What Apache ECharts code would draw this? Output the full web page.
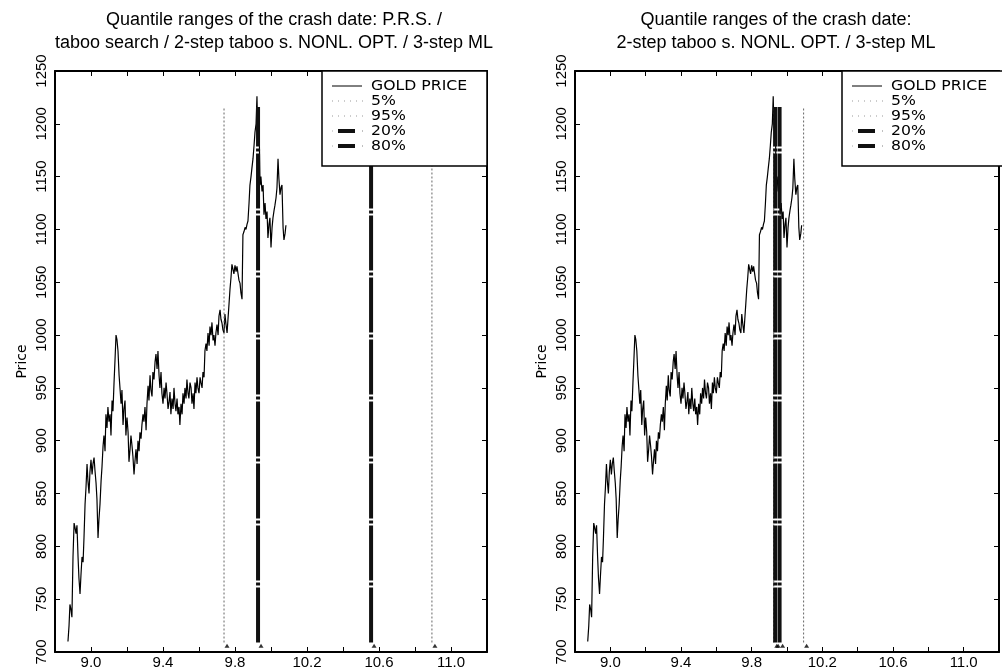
<!DOCTYPE html>
<html><head><meta charset="utf-8">
<script src="https://cdn.jsdelivr.net/npm/echarts@6/dist/echarts.min.js"></script>
<style>html,body{margin:0;padding:0;background:#fff}#c{width:1002px;height:670px}</style>
</head><body><div id="c"></div>
<script>
// ---------- data ----------
const goldDate = [
 8.872,8.878,8.883,8.889,8.894,8.900,8.906,8.911,8.917,8.922,8.928,8.933,8.939,8.944,8.950,8.956,8.961,8.967,8.972,8.978,8.983,8.989,8.994,
 9.000,9.006,9.011,9.017,9.022,9.028,9.033,9.039,9.044,9.050,9.056,9.061,9.067,9.072,9.078,9.083,9.089,9.094,9.100,9.106,9.111,9.117,9.122,9.128,9.133,9.139,9.144,9.150,9.156,9.161,9.167,9.172,9.178,9.183,9.189,9.194,
 9.200,9.206,9.211,9.217,9.222,9.228,9.233,9.239,9.244,9.250,9.256,9.261,9.267,9.272,9.278,9.283,9.289,9.294,9.300,9.306,9.311,9.317,9.322,9.328,9.333,9.339,9.344,9.350,9.356,9.361,9.367,9.372,9.378,9.383,9.389,9.394,
 9.400,9.406,9.411,9.417,9.422,9.428,9.433,9.439,9.444,9.450,9.456,9.461,9.467,9.472,9.478,9.483,9.489,9.494,9.500,9.506,9.511,9.517,9.522,9.528,9.533,9.539,9.544,9.550,9.556,9.561,9.567,9.572,9.578,9.583,9.589,9.594,
 9.600,9.606,9.611,9.617,9.622,9.628,9.633,9.639,9.644,9.650,9.656,9.661,9.667,9.672,9.678,9.683,9.689,9.694,9.700,9.706,9.711,9.717,9.722,9.728,9.733,9.739,9.744,9.750,9.756,9.761,9.767,9.772,9.778,9.783,9.789,9.794,
 9.800,9.806,9.811,9.817,9.822,9.828,9.833,9.839,9.844,9.850,9.856,9.861,9.867,9.872,9.878,9.883,9.889,9.894,9.900,9.906,9.911,9.917,9.922,9.928,9.933,9.939,9.944,9.950,9.956,9.961,9.967,9.972,9.978,9.983,9.989,9.994,
 10.000,10.006,10.011,10.017,10.022,10.028,10.033,10.039,10.044,10.050,10.056,10.061,10.067,10.072,10.078,10.083
];
const goldPrice = [
 710,725,745,740,733,790,822,818,812,820,790,770,755,772,790,785,808,840,855,878,862,850,870,
 882,868,878,884,872,860,845,808,825,840,862,875,895,905,890,925,912,932,918,925,905,938,928,955,975,1000,996,985,962,950,935,948,915,930,938,905,
 922,908,880,892,905,895,885,868,880,892,878,900,890,908,902,915,925,918,932,910,935,952,938,962,948,942,965,958,975,982,968,985,962,950,965,945,
 935,950,940,955,945,930,936,946,925,940,930,950,935,928,940,925,932,915,935,925,945,935,950,940,958,945,940,955,950,935,945,930,955,945,960,950,
 945,960,955,950,965,960,985,992,985,1002,990,1008,1000,1012,995,1000,990,1002,1010,1000,1018,1024,1015,1011,1005,1002,1020,1010,1002,1015,1030,1043,1055,1067,1062,1058,
 1066,1060,1065,1058,1052,1049,1040,1034,1095,1098,1102,1100,1105,1108,1125,1142,1150,1158,1167,1180,1192,1200,1226,1179,1210,1142,1150,1136,1142,1114,1125,1110,1117,1092,1105,1111,
 1083,1102,1111,1118,1123,1130,1139,1167,1148,1133,1140,1142,1102,1090,1096,1104
];
// quantile crash dates (x) per panel
const leftQ5  = [9.739],  leftQ95  = [10.894], leftQ20  = [9.928], leftQ80  = [10.556];
const rightQ5 = [9.925],  rightQ95 = [10.094], rightQ20 = [9.933], rightQ80 = [9.958];
const quantileSpan = [709, 1216];   // price range covered by the vertical quantile lines
const markerLevel = [706];          // price level of the small end markers
const legendLabels = ['GOLD PRICE', '5%', '95%', '20%', '80%'];
const titleLeft  = ['Quantile ranges of the crash date: P.R.S. /', 'taboo search / 2-step taboo s. NONL. OPT. / 3-step ML'];
const titleRight = ['Quantile ranges of the crash date:', '2-step taboo s. NONL. OPT. / 3-step ML'];
const yAxisName = 'Price';
const xRange = [8.8, 11.2], xStep = 0.2;
const yRange = [700, 1250], yStep = 50;

// ---------- chart ----------
const chart = echarts.init(document.getElementById('c'), null, {renderer: 'canvas'});
const FONT = 'Liberation Sans';
const PANELS = [{left: 55, title: titleLeft, tx: 274, q: [leftQ5, leftQ95, leftQ20, leftQ80]},
                {left: 575, title: titleRight, tx: 776, q: [rightQ5, rightQ95, rightQ20, rightQ80]}];
const TOP = 71, W = 432, H = 590;

function xFmt(v) {
  const k = Math.round((v - 9.0) / 0.2);
  if (k >= 0 && k % 2 === 0) return v.toFixed(1);
  return '';
}
const axisLine = {show: true, onZero: false, lineStyle: {color: '#000', width: 2}};
const axisTick = {show: true, inside: true, length: 5, lineStyle: {color: '#000', width: 1}};

const grid = [], xAxis = [], yAxis = [], series = [], graphic = [];
const gold = goldDate.map((d, i) => [d, goldPrice[i]]);
const thinStyle = {color: '#666', width: 1, type: [2, 2]};
const thickStyle = {color: '#111', width: 4, type: [55, 2, 3, 2]};

PANELS.forEach((p, gi) => {
  grid.push({left: p.left, top: TOP, width: W, height: H, containLabel: false});
  xAxis.push({gridIndex: gi, type: 'value', position: 'bottom', min: xRange[0], max: xRange[1], interval: xStep,
    axisLine, axisTick, splitLine: {show: false},
    axisLabel: {formatter: xFmt, color: '#000', fontFamily: FONT, fontSize: 15, margin: 3, showMinLabel: true, showMaxLabel: true}});
  xAxis.push({gridIndex: gi, type: 'value', position: 'top', min: xRange[0], max: xRange[1], interval: xStep,
    axisLine, axisTick, splitLine: {show: false}, axisLabel: {show: false}});
  yAxis.push({gridIndex: gi, type: 'value', position: 'left', min: yRange[0], max: yRange[1], interval: yStep,
    axisLine, axisTick, splitLine: {show: false},
    name: yAxisName, nameLocation: 'middle', nameGap: 26, nameRotate: 90,
    nameTextStyle: {color: '#000', fontFamily: 'DejaVu Sans', fontSize: 14},
    axisLabel: {rotate: 90, formatter: v => String(v), color: '#000', fontFamily: FONT, fontSize: 15, margin: 6,
      showMinLabel: true, showMaxLabel: true}});
  yAxis.push({gridIndex: gi, type: 'value', position: 'right', min: yRange[0], max: yRange[1], interval: yStep,
    axisLine, axisTick, splitLine: {show: false}, axisLabel: {show: false}});

  const xi = gi * 2, yi = gi * 2;
  series.push({type: 'line', name: 'GOLD PRICE', xAxisIndex: xi, yAxisIndex: yi, data: gold, showSymbol: false,
    symbol: 'none', lineStyle: {color: '#000', width: 1.2}, z: 3, animation: false});
  const styles = [thinStyle, thinStyle, thickStyle, thickStyle];
  p.q.forEach((arr, qi) => {
    arr.forEach(x => {
      series.push({type: 'line', name: legendLabels[qi + 1], xAxisIndex: xi, yAxisIndex: yi,
        data: quantileSpan.map(v => [x, v]), symbol: 'none', lineStyle: styles[qi], z: 4, animation: false});
      series.push({type: 'scatter', xAxisIndex: xi, yAxisIndex: yi, data: markerLevel.map(v => [x, v]),
        symbol: 'triangle', symbolSize: [5, 4], symbolOffset: [3, 0], itemStyle: {color: '#000'}, z: 4, animation: false});
    });
  });

  // title
  graphic.push({type: 'text', x: p.tx, y: 9, z: 20, style: {text: p.title.join('\n'), align: 'center', verticalAlign: 'top',
    fontFamily: FONT, fontSize: 18, lineHeight: 23, fill: '#000'}});
  // legend box
  const bx = p.left + 267, bw = W - 267;
  graphic.push({type: 'rect', z: 20, shape: {x: bx, y: TOP, width: bw, height: 95}, style: {fill: '#fff', stroke: '#000', lineWidth: 1.5}});
  const rows = [86, 101, 116, 131, 146];
  legendLabels.forEach((lab, i) => {
    const y = rows[i];
    if (i === 0) {
      graphic.push({type: 'line', z: 21, shape: {x1: bx + 10, y1: y, x2: bx + 40, y2: y}, style: {stroke: '#000', lineWidth: 1}});
    } else if (i <= 2) {
      graphic.push({type: 'line', z: 21, shape: {x1: bx + 10, y1: y, x2: bx + 41, y2: y}, style: {stroke: '#999', lineWidth: 1, lineDash: [1, 5]}});
    } else {
      graphic.push({type: 'line', z: 21, shape: {x1: bx + 10, y1: y, x2: bx + 41, y2: y}, style: {stroke: '#aaa', lineWidth: 1, lineDash: [1, 29]}});
      graphic.push({type: 'line', z: 21, shape: {x1: bx + 40, y1: y, x2: bx + 41, y2: y}, style: {stroke: '#aaa', lineWidth: 1}});
      graphic.push({type: 'line', z: 21, shape: {x1: bx + 16, y1: y, x2: bx + 33, y2: y}, style: {stroke: '#111', lineWidth: 4}});
    }
    graphic.push({type: 'text', z: 21, x: bx + 49, y: y, scaleX: 1.12,
      style: {text: lab, fontFamily: 'DejaVu Sans', fontSize: 14, fill: '#000', verticalAlign: 'middle', align: 'left'}});
  });
});

chart.setOption({animation: false, backgroundColor: '#fff', grid, xAxis, yAxis, series, graphic});
</script></body></html>
